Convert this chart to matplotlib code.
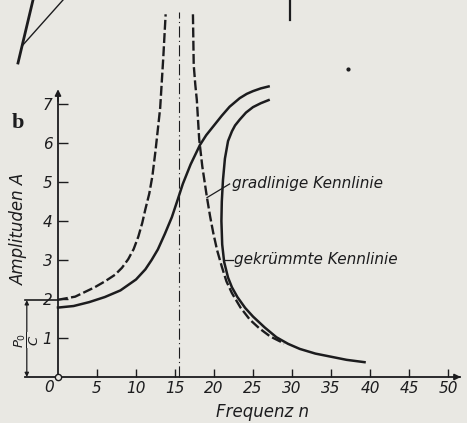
import matplotlib
matplotlib.use('Agg')
import matplotlib.pyplot as plt
from matplotlib.lines import Line2D

# Gradlinige Kennlinie (dashed), left and right branch of the resonance curve
lin_left_n = [0, 2.2, 4.7, 6.0, 7.3, 8.2, 9.0, 9.7, 10.3, 10.8, 11.2, 11.7, 12.1, 12.5, 13.1, 13.5, 13.8]
lin_left_a = [1.98, 2.06, 2.3, 2.45, 2.62, 2.8, 3.02, 3.28, 3.6, 3.95, 4.3, 4.7, 5.15, 5.8, 6.9, 8.2, 9.3]
lin_right_n = [17.3, 17.4, 17.6, 17.8, 18.1, 18.5, 19.1, 19.5, 19.9, 20.4, 21.0, 21.6, 22.3, 23.4, 24.6, 25.8, 27.2, 29.0]
lin_right_a = [9.3, 8.0, 7.5, 7.1, 6.1, 5.4, 4.6, 4.12, 3.7, 3.25, 2.83, 2.45, 2.15, 1.78, 1.47, 1.25, 1.04, 0.86]

# Gekrümmte Kennlinie (solid), upper and lower branch
curv_up_n = [0, 2, 4, 6, 8, 10, 11.2, 12, 12.8, 13.7, 14.6, 15.3, 16, 17, 18.2, 19, 20, 21, 22, 23.3, 24.2, 25, 26, 27]
curv_up_a = [1.78, 1.82, 1.92, 2.05, 2.22, 2.5, 2.76, 3.0, 3.27, 3.67, 4.1, 4.52, 4.95, 5.45, 5.95, 6.2, 6.45, 6.7, 6.93, 7.15, 7.26, 7.33, 7.4, 7.45]
curv_lo_n = [27, 26, 25, 24.1, 23.3, 22.7, 22.3, 21.8, 21.4, 21.15, 21.0, 20.95, 21.05, 21.3, 21.8, 22.3, 23, 24, 25, 26.5, 28, 29.5, 31, 33, 35, 37, 39.3]
curv_lo_a = [7.1, 7.02, 6.92, 6.78, 6.6, 6.45, 6.3, 6.05, 5.6, 5.05, 4.5, 4.0, 3.4, 2.95, 2.55, 2.3, 2.05, 1.77, 1.55, 1.27, 1.02, 0.85, 0.72, 0.6, 0.52, 0.44, 0.38]

n_res = 15.5      # Eigenfrequenz (dash-dot line)
p0_c = 1.97       # statischer Ausschlag P0/C
x_ticks = [5, 10, 15, 20, 25, 30, 35, 40, 45, 50]
y_ticks = [1, 2, 3, 4, 5, 6, 7]

paper = '#e9e8e3'
ink = '#1c1c1e'
W, H = 467, 423
fnt = ['Liberation Sans Narrow', 'DejaVu Sans']

fig = plt.figure(figsize=(W / 100, H / 100), dpi=100, facecolor=paper)
ax = fig.add_axes([0, 0, 1, 1])
ax.set_facecolor(paper)
ax.set_xlim(-58 / 7.8, (W - 58) / 7.8)
ax.set_ylim((377 - H) / 39, 377 / 39)

for s in ['top', 'right']:
    ax.spines[s].set_visible(False)
ax.spines['left'].set_position(('data', 0))
ax.spines['bottom'].set_position(('data', 0))
ax.spines['left'].set_bounds(0, 7.3)
ax.spines['bottom'].set_bounds(-4.2, 51.5)
for s in ['left', 'bottom']:
    ax.spines[s].set_color(ink)
    ax.spines[s].set_linewidth(1.3)

ax.set_xticks(x_ticks)
ax.set_xticklabels([str(t) for t in x_ticks])
ax.set_yticks(y_ticks)
ax.set_yticklabels([str(t) for t in y_ticks])
ax.tick_params(axis='x', direction='in', length=6, width=1, color=ink, pad=3)
ax.tick_params(axis='y', direction='in', length=7, width=1, color=ink, pad=4)
for lab in ax.get_xticklabels() + ax.get_yticklabels():
    lab.set_family(fnt)
    lab.set_style('italic')
    lab.set_fontsize(11)
    lab.set_color(ink)
ax.text(-1.2, -0.26, '0', family=fnt, style='italic', fontsize=11, color=ink,
        ha='center', va='center')

# axis arrows
ax.annotate('', xy=(0, 7.45), xytext=(0, 7.0),
            arrowprops=dict(arrowstyle='-|>', color=ink, lw=1.2, mutation_scale=9))
ax.annotate('', xy=(52.0, 0), xytext=(51.0, 0),
            arrowprops=dict(arrowstyle='-|>', color=ink, lw=1.2, mutation_scale=9))
ax.plot([0], [0], marker='o', ms=4.5, mfc=paper, mec=ink, mew=1, zorder=5, clip_on=False)

# curves
dash = (0, (4.2, 1.4))
ax.plot(lin_left_n, lin_left_a, color=ink, lw=1.7, ls=dash)
ax.plot(lin_right_n, lin_right_a, color=ink, lw=1.7, ls=dash)
ax.plot(curv_up_n, curv_up_a, color=ink, lw=1.8)
ax.plot(curv_lo_n, curv_lo_a, color=ink, lw=1.8)
ax.plot([n_res, n_res], [0, 9.35], color=ink, lw=0.8, ls=(0, (10, 3, 1, 3)))

# P0/C marker
ax.plot([-4.2, 0], [p0_c, p0_c], color=ink, lw=1.2)
ax.annotate('', xy=(-4.0, p0_c), xytext=(-4.0, 0),
            arrowprops=dict(arrowstyle='<|-|>', color=ink, lw=0.9, mutation_scale=6,
                            shrinkA=0, shrinkB=0))
ax.text(-4.0, 0.95, r'$\dfrac{P_0}{C}$', rotation=90, fontsize=9.5, color=ink,
        ha='center', va='center', bbox=dict(fc=paper, ec='none', pad=0.2))

# labels
ax.text(-5.1, 6.5, 'b', family=['Liberation Serif', 'DejaVu Serif'], fontweight='bold',
        fontsize=16, color=ink, ha='center', va='center')
ax.text(-5.0, 3.8, 'Amplituden A', family=fnt, style='italic', fontsize=12, color=ink,
        rotation=90, ha='center', va='center')
ax.text(26.2, -0.9, 'Frequenz n', family=fnt, style='italic', fontsize=12, color=ink,
        ha='center', va='center')

ax.plot([19.1, 22.0], [4.6, 4.95], color=ink, lw=0.9)
ax.text(22.3, 4.95, 'gradlinige Kennlinie', family=fnt, style='italic', fontsize=11,
        color=ink, ha='left', va='center')
ax.plot([21.3, 22.4], [3.0, 3.0], color=ink, lw=0.9)
ax.text(22.6, 3.02, 'gekrümmte Kennlinie', family=fnt, style='italic', fontsize=11,
        color=ink, ha='left', va='center')


# remnants of the figure above (page scan)
def px(x, y):
    return x / W, 1 - y / H


for (x0, y0), (x1, y1), w in [((18, 63), (33, 0), 2.0), ((22, 46), (63, 0), 1.0),
                              ((290, 0), (290, 20), 1.6)]:
    a, b = px(x0, y0)
    c, d = px(x1, y1)
    fig.add_artist(Line2D([a, c], [b, d], color=ink, lw=w, transform=fig.transFigure))
a, b = px(348, 69)
fig.add_artist(Line2D([a], [b], marker='o', ms=2, color=ink, transform=fig.transFigure))

fig.savefig('out.png', dpi=100, facecolor=paper)
